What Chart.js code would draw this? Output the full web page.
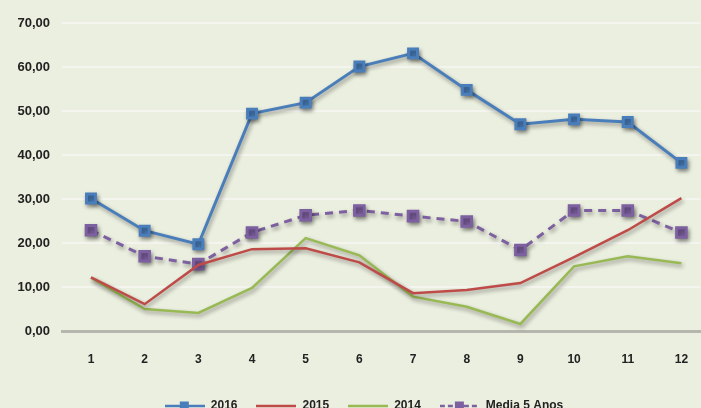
<!DOCTYPE html>
<html>
<head>
<meta charset="utf-8">
<script src="https://cdn.jsdelivr.net/npm/chart.js@4/dist/chart.umd.min.js"></script>
<style>
  html, body { margin: 0; padding: 0; background: #ebefdf; overflow: hidden; }
  #wrap { position: relative; width: 710px; height: 422px; }
</style>
</head>
<body>
<div id="wrap"><canvas id="chart"></canvas></div>
<script>
// Data
const months = [1, 2, 3, 4, 5, 6, 7, 8, 9, 10, 11, 12];
const yTicks = [0, 10, 20, 30, 40, 50, 60, 70];
const s2016 = [30.1, 22.8, 19.7, 49.4, 51.9, 60.1, 63.1, 54.8, 47.0, 48.1, 47.5, 38.2];
const s2015 = [12.2, 6.1, 15.0, 18.6, 18.8, 15.6, 8.6, 9.3, 10.9, 16.8, 22.9, 30.2];
const s2014 = [12.1, 5.0, 4.1, 9.8, 21.1, 17.2, 7.8, 5.5, 1.6, 14.7, 17.0, 15.4];
const sMedia = [22.9, 17.0, 15.2, 22.4, 26.3, 27.4, 26.1, 24.9, 18.4, 27.4, 27.4, 22.4];

const BLUE = '#4a7ebb';
const RED = '#be4b48';
const GREEN = '#98b954';
const PURPLE = '#7d60a0';

const toXY = arr => arr.map((v, i) => ({ x: months[i], y: v }));

// legend icons: short line with optional square marker
function legendIcon(color, dashed, marker) {
    const c = document.createElement('canvas');
    c.width = 40; c.height = 12;
    const g = c.getContext('2d');
    g.strokeStyle = color;
    g.lineWidth = 2.5;
    if (dashed) g.setLineDash([5, 3]);
    g.beginPath(); g.moveTo(0, 6); g.lineTo(40, 6); g.stroke();
    if (marker) { g.fillStyle = color; g.fillRect(15, 1.5, 9, 9); }
    return c;
}
const icons = [
    legendIcon(BLUE, false, true),
    legendIcon(RED, false, false),
    legendIcon(GREEN, false, false),
    legendIcon(PURPLE, true, true)
];

// soft drop shadow under the lines
const shadowPlugin = {
    id: 'shadow',
    beforeDatasetsDraw(chart) {
        const c = chart.ctx;
        c.save();
        c.shadowColor = 'rgba(0,0,0,0.4)';
        c.shadowBlur = 4;
        c.shadowOffsetX = 1.5;
        c.shadowOffsetY = 2.5;
    },
    afterDatasetsDraw(chart) {
        chart.ctx.restore();
    }
};

// the legend sits a little right of centre in the original
const legendShift = {
    id: 'legendShift',
    afterLayout(chart) {
        chart.legend.left += 9;
        chart.legend.right += 9;
    }
};

new Chart(document.getElementById('chart'), {
    type: 'line',
    data: {
        datasets: [
            {
                label: '2016', data: toXY(s2016), borderColor: BLUE, backgroundColor: BLUE,
                borderWidth: 3, pointStyle: 'rect', pointRadius: 6.3, pointHoverRadius: 6.3
            },
            {
                label: '2015', data: toXY(s2015), borderColor: RED, backgroundColor: RED,
                borderWidth: 2.5, pointRadius: 0
            },
            {
                label: '2014', data: toXY(s2014), borderColor: GREEN, backgroundColor: GREEN,
                borderWidth: 2.5, pointRadius: 0
            },
            {
                label: 'Media 5 Anos', data: toXY(sMedia), borderColor: PURPLE, backgroundColor: PURPLE,
                borderWidth: 3, borderDash: [8, 6], pointStyle: 'rect', pointRadius: 6.8, pointHoverRadius: 6.8
            }
        ]
    },
    options: {
        responsive: true,
        maintainAspectRatio: false,
        animation: false,
        layout: { padding: { top: 23, right: 0, left: 0, bottom: 0 } },
        scales: {
            x: {
                type: 'linear',
                min: 0.46,
                max: 12.35,
                afterBuildTicks: scale => { scale.ticks = months.map(v => ({ value: v })); },
                afterFit: scale => { scale.height = 50; },
                grid: { display: false, drawTicks: false },
                border: { display: true, color: '#b5b6ae', width: 3 },
                ticks: {
                    color: '#222', font: { family: 'Liberation Sans', size: 12, weight: 'bold' },
                    padding: 21, autoSkip: false, maxRotation: 0
                }
            },
            y: {
                min: 0,
                max: 70,
                afterBuildTicks: scale => { scale.ticks = yTicks.map(v => ({ value: v })); },
                afterFit: scale => { scale.width = 62; },
                grid: {
                    drawTicks: false,
                    lineWidth: 2,
                    color: ctx => (ctx.tick && ctx.tick.value === 0) ? 'rgba(0,0,0,0)' : '#f4f5ee'
                },
                border: { display: false },
                ticks: {
                    color: '#222', font: { family: 'Liberation Sans', size: 13, weight: 'bold' }, padding: 12,
                    callback: v => v.toFixed(2).replace('.', ',')
                }
            }
        },
        plugins: {
            legend: {
                position: 'bottom',
                labels: {
                    usePointStyle: true,
                    pointStyleWidth: 40,
                    padding: 19,
                    color: '#222',
                    font: { family: 'Liberation Sans', size: 12, weight: 'bold' },
                    generateLabels: chart => Chart.defaults.plugins.legend.labels.generateLabels(chart)
                        .map((l, i) => ({ ...l, pointStyle: icons[i], lineWidth: 0, strokeStyle: 'rgba(0,0,0,0)' }))
                }
            },
            tooltip: { enabled: false }
        }
    },
    plugins: [shadowPlugin, legendShift]
});
</script>
</body>
</html>
